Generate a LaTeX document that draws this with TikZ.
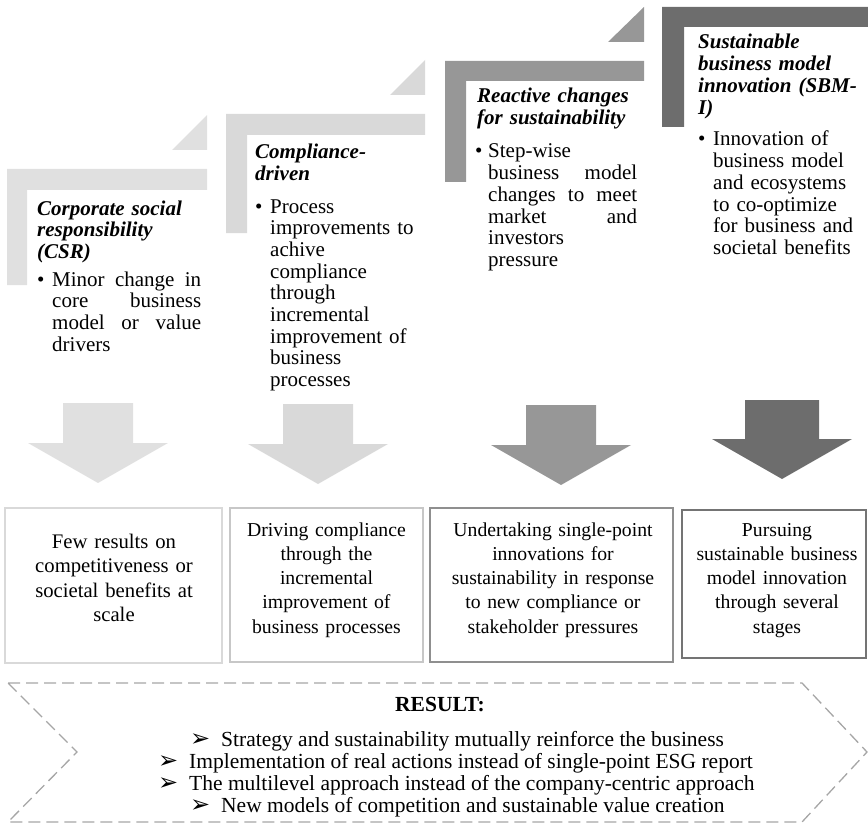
\documentclass[tikz,border=0pt]{standalone}
\usepackage{fontspec}
\setmainfont{Liberation Serif}
\newfontfamily\arrowfont{DejaVu Sans}
\usetikzlibrary{positioning}
\definecolor{stepA}{HTML}{E0E0E0}
\definecolor{stepB}{HTML}{D9D9D9}
\definecolor{stepC}{HTML}{979797}
\definecolor{stepD}{HTML}{6D6D6D}
\definecolor{dashgray}{HTML}{A6A6A6}
\newcommand{\tipmark}{\makebox[31pt][l]{\arrowfont\fontsize{24}{19}\selectfont ➢}}

\begin{document}
\begin{tikzpicture}[
            x=1pt, y=-1pt,
            steptitle/.style = {anchor=base west, inner sep=0, text width=175pt, align=left, font=\fontsize{21}{21.7}\selectfont\bfseries\itshape},
            stepbody/.style = {anchor=base west, inner sep=0, text width=149pt, align=left, font=\fontsize{21}{21.7}\selectfont},
            stepdot/.style = {anchor=base west, inner sep=0, font=\fontsize{21}{21.7}\selectfont},
            resbox/.style = {draw, line width=1.5pt, fill=white, inner sep=0},
            boxtext/.style = {anchor=base, inner sep=0, text width=225pt, align=center, font=\fontsize{19.7}{24.3}\selectfont},
            resitem/.style = {anchor=base west, inner sep=0, font=\fontsize{21.5}{22}\selectfont}
          ]
          \useasboundingbox (0,0) rectangle (868,824);

          % steps
          \fill[stepA] (7,169) -- (207,169) -- (207,190) -- (27,190) -- (27,285) -- (7,285) -- cycle;
          \fill[stepA] (172,150) -- (207,150) -- (207,115) -- cycle;
          \fill[stepB] (226,114) -- (425,114) -- (425,135) -- (247,135) -- (247,233) -- (226,233) -- cycle;
          \fill[stepB] (390,95) -- (425,95) -- (425,60) -- cycle;
          \fill[stepC] (445,61) -- (644,61) -- (644,81) -- (466,81) -- (466,182) -- (445,182) -- cycle;
          \fill[stepC] (608,42) -- (644,42) -- (644,7) -- cycle;
          \fill[stepD] (662,7) -- (868,7) -- (868,27) -- (684,27) -- (684,127) -- (662,127) -- cycle;

          \node[steptitle] (title_1) at (37,215) {Corporate social\\responsibility\\(CSR)};
          \node[stepdot] (dot_1) at (37,286) {\textbullet};
          \node[stepbody] (body_1) at (52,286) {Minor\hfill change\hfill in\\core\hfill business\\model\hfill or\hfill value\\drivers};

          \node[steptitle] (title_2) at (255,159) {Compliance-\\driven};
          \node[stepdot] (dot_2) at (255,213) {\textbullet};
          \node[stepbody] (body_2) at (270,213) {Process\\improvements to\\achive\\compliance\\through\\incremental\\improvement of\\business\\processes};

          \node[steptitle] (title_3) at (477,103) {Reactive changes\\for sustainability};
          \node[stepdot] (dot_3) at (475,158) {\textbullet};
          \node[stepbody] (body_3) at (488,158) {Step-wise\\business\hfill model\\changes\hfill to\hfill meet\\market\hfill and\\investors\\pressure};

          \node[steptitle] (title_4) at (698,49) {Sustainable\\business model\\innovation (SBM-\\I)};
          \node[stepdot] (dot_4) at (698,146) {\textbullet};
          \node[stepbody] (body_4) at (713,146) {Innovation of\\business model\\and ecosystems\\to co-optimize\\for business and\\societal benefits};

          % down arrows
          \fill[stepA] (63,403) -- ++(70,0) -- ++(0,40) -- ++(35,0) -- ++(-70,40) -- ++(-70,-40) -- ++(35,0) -- cycle;
          \fill[stepB] (283,404) -- ++(70,0) -- ++(0,40) -- ++(35,0) -- ++(-70,40) -- ++(-70,-40) -- ++(35,0) -- cycle;
          \fill[stepC] (526,405) -- ++(70,0) -- ++(0,40) -- ++(35,0) -- ++(-70,40) -- ++(-70,-40) -- ++(35,0) -- cycle;
          \fill[stepD] (745,400) -- ++(74,0) -- ++(0,39) -- ++(33,0) -- ++(-70,40) -- ++(-70,-40) -- ++(33,0) -- cycle;

          % result boxes
          \node[resbox, draw=stepB, minimum width=217pt, minimum height=155pt] (box_1) at (113.5,585.5) {};
          \node[resbox, draw=black!22, minimum width=193pt, minimum height=154pt] (box_2) at (326.5,585) {};
          \node[resbox, draw=stepC!95!black, minimum width=243pt, minimum height=154pt] (box_3) at (551.5,585) {};
          \node[resbox, draw=stepD!95!white, minimum width=184pt, minimum height=148pt] (box_4) at (774,584) {};

          \node[boxtext, font=\fontsize{20.7}{24.5}\selectfont] (text_1) at (114,548) {Few results on\\competitiveness or\\societal benefits at\\scale};
          \node[boxtext] (text_2) at (326.5,536) {Driving compliance\\through the\\incremental\\improvement of\\business processes};
          \node[boxtext] (text_3) at (553,536) {Undertaking single-point\\innovations for\\sustainability in response\\to new compliance or\\stakeholder pressures};
          \node[boxtext] (text_4) at (777,536) {Pursuing\\sustainable business\\model innovation\\through several\\stages};

          % result chevron
          \draw[dashgray, line width=1.3pt, dash pattern=on 12pt off 6pt] (8,683) -- (802,683) -- (867,752) -- (802,822) -- (8,822) -- (77,752) -- cycle;
          \node[resitem, anchor=base, font=\fontsize{21.5}{22}\selectfont\bfseries] (res_head) at (440,711) {RESULT:};
          \node[resitem] (res_1) at (190,746) {\tipmark Strategy and sustainability mutually reinforce the business};
          \node[resitem] (res_2) at (158,768) {\tipmark Implementation of real actions instead of single-point ESG report};
          \node[resitem] (res_3) at (158,790) {\tipmark The multilevel approach instead of the company-centric approach};
          \node[resitem] (res_4) at (190,812) {\tipmark New models of competition and sustainable value creation};
        \end{tikzpicture}
\end{document}
